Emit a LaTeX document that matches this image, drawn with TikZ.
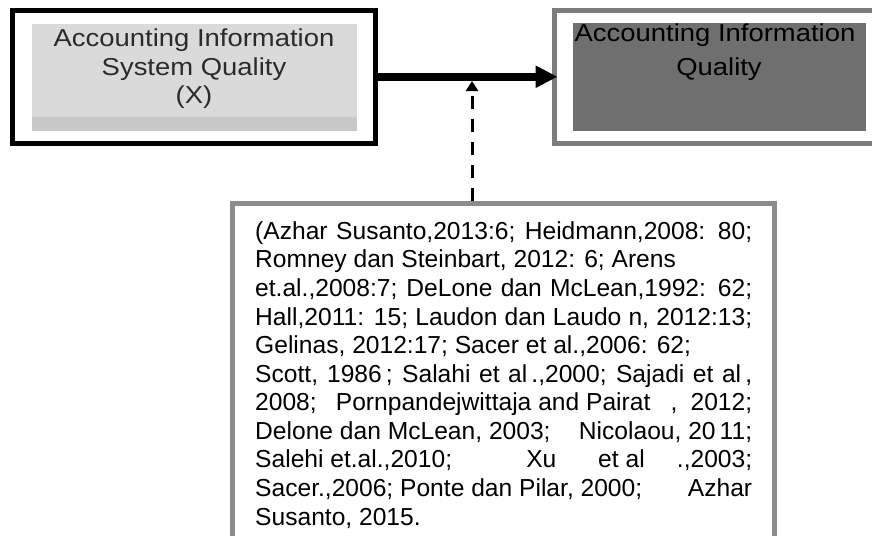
\documentclass[tikz,border=0pt]{standalone}
\usepackage{fontspec}
\setmainfont{Liberation Sans}
\newfontfamily\boxfont[FakeStretch=1.12]{Liberation Sans}
\usetikzlibrary{arrows.meta}
\definecolor{lightfill}{HTML}{DADADA}
\definecolor{stripgray}{HTML}{C8C8C8}
\definecolor{darkfill}{HTML}{6F6F6F}
\definecolor{rborder}{HTML}{7C7C7C}
\definecolor{tborder}{HTML}{8C8C8C}
\definecolor{ltext}{HTML}{2B2B2B}
\tikzset{
  outerbox/.style={draw, line width=5pt, inner sep=0pt, fill=white},
  innerbox/.style={inner sep=0pt, draw=none},
  titletext/.style={anchor=base, inner sep=0pt, font=\boxfont\fontsize{24.5}{28}\selectfont},
  reftext/.style={anchor=base west, inner sep=0pt, font=\fontsize{24.6}{28}\selectfont},
  mainarrow/.style={line width=8pt, -{Triangle[length=22pt,width=21pt]}},
  modarrow/.style={line width=3pt, dash pattern=on 13pt off 10pt, -{Triangle[length=10pt,width=12pt]}}
}
\newcommand{\jline}[1]{\makebox[497pt][s]{#1}}
\newcommand{\fl}[1]{\hspace{0pt plus #1fill}}
\begin{document}
\begin{tikzpicture}[x=1pt,y=-1pt]
\useasboundingbox (0,0) rectangle (872,535);
\clip (0,0) rectangle (872,535);
\fill[white] (0,0) rectangle (872,535);

% left box
\node[outerbox, draw=black, minimum width=363pt, minimum height=132.5pt] (lbox) at (194,76.75) {};
\node[innerbox, fill=lightfill, minimum width=325pt, minimum height=107pt] (lin) at (194.5,77.5) {};
\fill[stripgray] (lin.south west) rectangle ([yshift=14pt]lin.south east);
\node[titletext, text=ltext] (l1) at (194,46.5) {Accounting Information};
\node[titletext, text=ltext] (l2) at (194,75.2) {System Quality};
\node[titletext, text=ltext] (l3) at (194,103.9) {(X)};

% right box
\node[outerbox, draw=rborder, outer sep=0pt, minimum width=345.5pt, minimum height=132.5pt] (rbox) at (727.25,76.75) {};
\node[innerbox, fill=darkfill, minimum width=293pt, minimum height=108pt] (rin) at (719.5,77) {};
\node[titletext, text=black] (r1) at (715,41.7) {Accounting Information};
\node[titletext, text=black] (r2) at (719,75) {Quality};

% references box
\node[outerbox, draw=tborder, minimum width=541.5pt, minimum height=356.5pt] (tbox) at (503.25,381.75) {};
\node[reftext] (t1) at (255,239.3) {\jline{(Azhar Susanto,2013:6; Heidmann,2008: 80;}};
\node[reftext] (t2) at (255,267.9) {Romney dan Steinbart, 2012: 6; Arens};
\node[reftext] (t3) at (255,296.4) {\jline{et.al.,2008:7; DeLone dan McLean,1992: 62;}};
\node[reftext] (t4) at (255,325.0) {\jline{Hall,2011: 15; Laudon dan Laudo n, 2012:13;}};
\node[reftext] (t5) at (255,353.6) {Gelinas, 2012:17; Sacer et al.,2006: 62;};
\node[reftext] (t6) at (255,382.2) {\jline{Scott, 1986\,; Salahi et al\,.,2000; Sajadi et al\,,}};
\node[reftext] (t7) at (255,410.7) {\makebox[497pt][l]{2008; \fl{1}Pornpandejwittaja and Pairat \fl{1.1}, \fl{0.5}2012;}};
\node[reftext] (t8) at (255,439.3) {\makebox[497pt][l]{Delone dan McLean, 2003; \fl{1}Nicolaou, 20\,11;}};
\node[reftext] (t9) at (255,467.9) {\makebox[497pt][l]{Salehi et.al.,2010;\fl{2.3}Xu\fl{1.3}et al\fl{1}.,2003;}};
\node[reftext] (t10) at (255,496.4) {\makebox[497pt][l]{Sacer.,2006; Ponte dan Pilar, 2000;\hfill Azhar}};
\node[reftext] (t11) at (255,525.0) {Susanto, 2015.};

% connectors
\draw[mainarrow, shorten >=-3pt] (lbox.east) -- (rbox.west);
\coordinate (dx) at (472,0);
\coordinate (dend) at (472,81);
\draw[modarrow] (tbox.north -| dx) -- (dend);
\end{tikzpicture}
\end{document}
